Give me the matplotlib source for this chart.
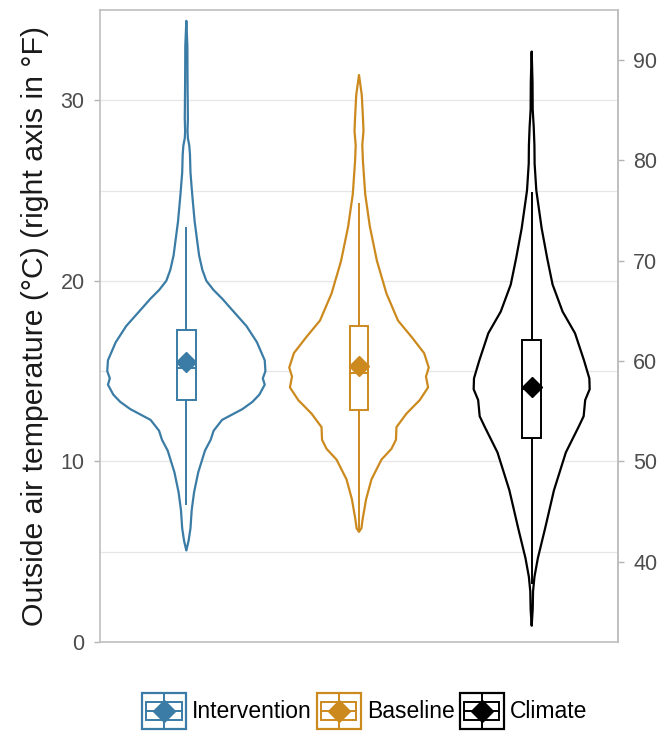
import matplotlib
matplotlib.use("Agg")
import matplotlib.pyplot as plt
from matplotlib.patches import Rectangle, Polygon
from matplotlib.lines import Line2D
from matplotlib.legend_handler import HandlerBase
import numpy as np

plt.rcParams['font.family'] = ['Liberation Sans', 'DejaVu Sans']

# ---------------- data ----------------
groups = ["Intervention", "Baseline", "Climate"]
colors = ["#3A7CA5", "#CC8A1E", "#000000"]

# violin profiles: temperature (°C) and half-width (x-axis units)
int_temp = [34.4, 33.0, 31.0, 29.0, 28.3, 27.9, 27.5, 27.0, 26.0, 24.9, 23.3, 21.4, 20.6,
            20.0, 19.5, 19.0, 18.5, 17.5, 16.6, 15.6, 15.0, 14.6, 14.25, 13.7, 13.3, 12.9,
            12.3, 11.7, 11.2, 10.6, 9.4, 8.3, 7.3, 6.3, 5.6, 5.07]
int_width = [0.0, 0.006, 0.007, 0.009, 0.007, 0.009, 0.017, 0.021, 0.024, 0.033, 0.048, 0.074,
             0.093, 0.116, 0.157, 0.209, 0.255, 0.348, 0.409, 0.454, 0.458, 0.443, 0.454,
             0.423, 0.383, 0.325, 0.207, 0.158, 0.141, 0.108, 0.069, 0.045, 0.031, 0.024,
             0.013, 0.0]

base_temp = [31.4, 30.3, 29.0, 28.3, 27.5, 26.6, 24.8, 23.0, 21.1, 19.3, 17.8, 16.9, 16.0,
             15.2, 14.7, 14.1, 13.4, 12.65, 11.9, 11.2, 10.7, 10.1, 9.0, 7.9, 6.8, 6.3, 6.1]
base_width = [0.0, 0.016, 0.023, 0.026, 0.019, 0.023, 0.036, 0.063, 0.104, 0.159, 0.226,
              0.304, 0.377, 0.404, 0.388, 0.400, 0.352, 0.275, 0.217, 0.214, 0.188, 0.130,
              0.072, 0.041, 0.021, 0.014, 0.0]

clim_temp = [32.7, 31.0, 29.5, 28.5, 27.5, 26.5, 25.0, 22.9, 21.25, 19.8, 18.3, 17.1, 15.6,
             14.6, 14.0, 13.4, 12.5, 11.9, 10.5, 8.4, 6.3, 4.65, 3.6, 2.8, 1.8, 0.9]
clim_width = [0.0, 0.005, 0.006, 0.012, 0.016, 0.017, 0.027, 0.058, 0.090, 0.121, 0.179,
              0.251, 0.303, 0.334, 0.336, 0.310, 0.301, 0.271, 0.198, 0.129, 0.078, 0.036,
              0.016, 0.008, 0.006, 0.0]

# box-plot statistics (°C)
q1 = [13.4, 12.85, 11.3]
median = [15.2, 14.9, 14.0]
q3 = [17.3, 17.5, 16.7]
whisker_low = [7.6, 6.2, 3.2]
whisker_high = [23.0, 24.3, 24.9]
mean = [15.5, 15.3, 14.1]

left_ticks = [0, 10, 20, 30]
right_ticks = [40, 50, 60, 70, 80, 90]

# ---------------- figure ----------------
W, H = 658, 732
fig = plt.figure(figsize=(W / 100, H / 100), dpi=100)
ax = fig.add_axes([100 / W, 1 - 642 / H, 518 / W, 632 / H])

ax.set_xlim(0.5, 3.5)
ax.set_ylim(0, 35)

profiles = [(int_temp, int_width), (base_temp, base_width), (clim_temp, clim_width)]
box_w = 0.11
for i, (temps, widths) in enumerate(profiles):
    x0 = i + 1
    c = colors[i]
    t = np.array(temps)
    w = np.array(widths)
    xs = np.concatenate([x0 + w, (x0 - w)[::-1]])
    ys = np.concatenate([t, t[::-1]])
    ax.add_patch(Polygon(np.column_stack([xs, ys]), closed=True, facecolor='white',
                         edgecolor=c, lw=1.6, zorder=2, joinstyle='round'))
    # whiskers
    ax.plot([x0, x0], [q3[i], whisker_high[i]], color=c, lw=1.4, zorder=3,
            solid_capstyle='butt')
    ax.plot([x0, x0], [whisker_low[i], q1[i]], color=c, lw=1.4, zorder=3,
            solid_capstyle='butt')
    # box
    ax.add_patch(Rectangle((x0 - box_w / 2, q1[i]), box_w, q3[i] - q1[i],
                           facecolor='white', edgecolor=c, lw=1.4, zorder=4))
    ax.plot([x0 - box_w / 2, x0 + box_w / 2], [median[i], median[i]], color=c, lw=1.4,
            zorder=5)
    ax.plot([x0], [mean[i]], marker='D', ms=10.5, color=c, mec=c, zorder=6, ls='none')

# grid
for v in np.arange(5, 35, 5):
    ax.axhline(v, color='#e6e6e6', lw=0.9, zorder=0)

ax.set_yticks(left_ticks)
ax.set_xticks([])
ax.tick_params(axis='y', length=4, width=1, color='#b3b3b3', labelsize=15.5,
               labelcolor='#4d4d4d', pad=7)
for s in ax.spines.values():
    s.set_color('#bfbfbf')
    s.set_linewidth(1.2)

ax.set_ylabel("Outside air temperature (°C) (right axis in °F)", fontsize=21.8,
              color='#1a1a1a', labelpad=8)

sec = ax.secondary_yaxis('right', functions=(lambda c: c * 9 / 5 + 32,
                                             lambda f: (f - 32) * 5 / 9))
sec.set_yticks(right_ticks)
sec.tick_params(axis='y', length=4, width=1, color='#b3b3b3', labelsize=15.5,
                labelcolor='#4d4d4d', pad=7)
sec.spines['right'].set_color('#bfbfbf')
sec.spines['right'].set_linewidth(1.2)


# ---------------- legend ----------------
class KeyHandler(HandlerBase):
    def create_artists(self, legend, orig_handle, xdescent, ydescent, width, height,
                       fontsize, trans):
        c = orig_handle.get_color()
        x0, y0 = -xdescent, -ydescent
        arts = []
        arts.append(Rectangle((x0, y0), width, height, facecolor='white', edgecolor=c,
                              lw=1.6, transform=trans))
        arts.append(Line2D([x0 + width / 2] * 2, [y0, y0 + 0.25 * height], color=c, lw=1.4,
                           transform=trans))
        arts.append(Line2D([x0 + width / 2] * 2, [y0 + 0.75 * height, y0 + height], color=c,
                           lw=1.4, transform=trans))
        arts.append(Rectangle((x0 + 0.1 * width, y0 + 0.25 * height), 0.8 * width,
                              0.5 * height, facecolor='white', edgecolor=c, lw=1.4,
                              transform=trans))
        arts.append(Line2D([x0 + 0.1 * width, x0 + 0.9 * width], [y0 + height / 2] * 2,
                           color=c, lw=1.4, transform=trans))
        arts.append(Line2D([x0 + width / 2], [y0 + height / 2], marker='D', ms=11, color=c,
                           ls='none', transform=trans))
        return arts


handles = [Line2D([], [], color=c) for c in colors]
fig.legend(handles, groups, loc='center', bbox_to_anchor=(364.5 / W, 1 - 711 / H), ncol=3,
           frameon=False, fontsize=16.5, handler_map={h: KeyHandler() for h in handles},
           handlelength=1.92, handleheight=2.1, handletextpad=0.26, columnspacing=0.22,
           borderpad=0, borderaxespad=0)

fig.savefig("out.png", dpi=100)
